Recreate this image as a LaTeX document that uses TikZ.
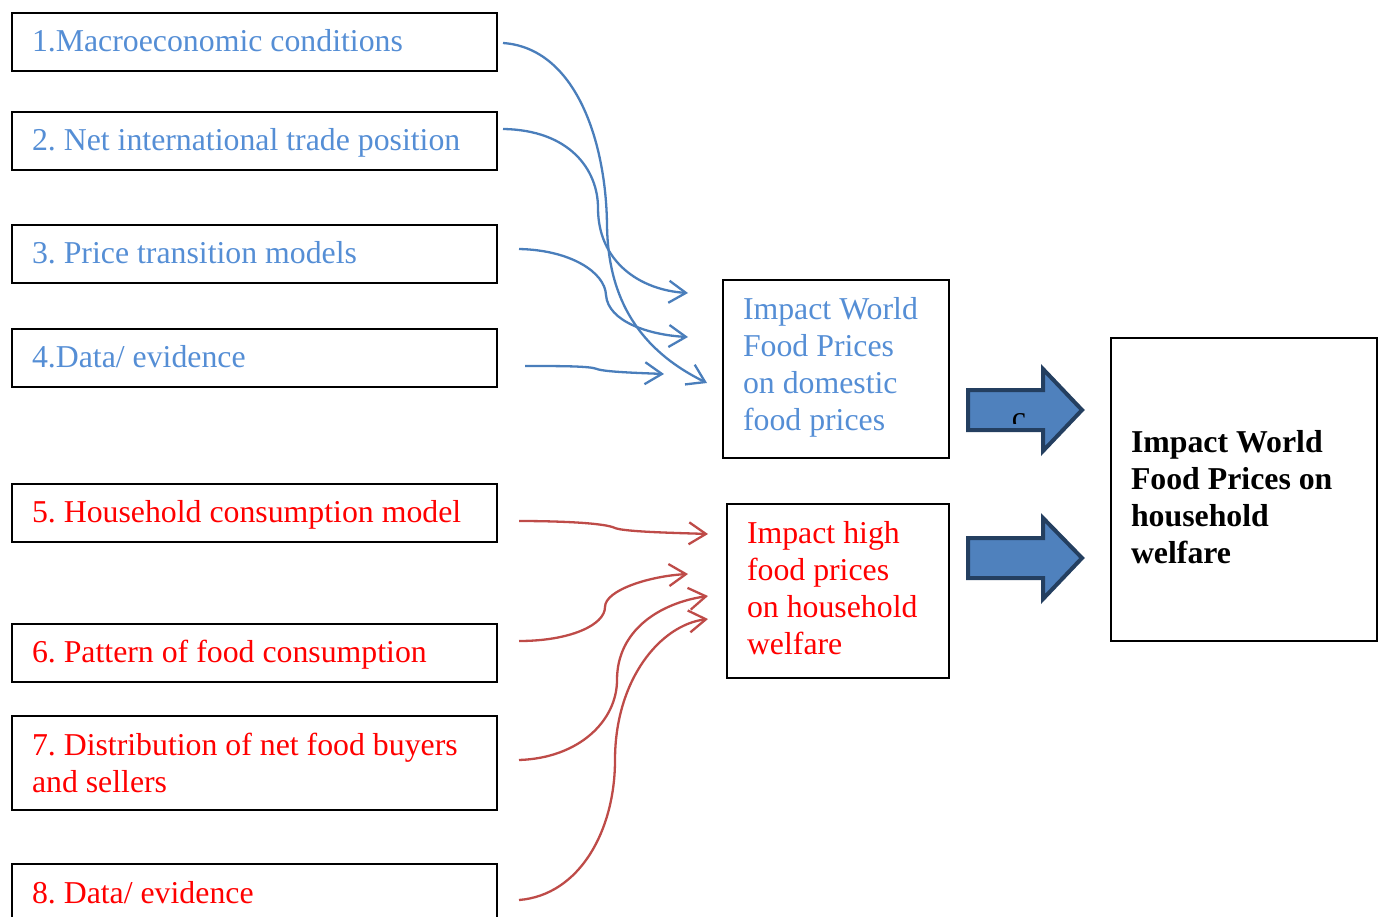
\documentclass[tikz,border=0pt]{standalone}
\usepackage{fontspec}
\setmainfont{Liberation Serif}
\usetikzlibrary{arrows.meta}
\definecolor{txtblue}{HTML}{558ED5}
\definecolor{lnblue}{HTML}{4A7EBB}
\definecolor{txtred}{HTML}{FF0000}
\definecolor{lnred}{HTML}{BE4B48}
\definecolor{arrfill}{HTML}{4F81BD}
\definecolor{arrdraw}{HTML}{243F60}
\frenchspacing
\begin{document}
\begin{tikzpicture}[x=1pt,y=-1pt,
  basebox/.style={draw=black, line width=2pt, anchor=north west, inner ysep=0pt, align=flush left,
    font=\fontsize{31.8}{37}\selectfont},
  leftbox/.style={basebox, inner xsep=20pt, text width=445pt, minimum width=485pt, minimum height=58pt},
  oneline/.style={text height=24pt, text depth=5pt},
  midbox/.style={basebox, inner xsep=20pt},
  bluetxt/.style={text=txtblue},
  redtxt/.style={text=txtred},
  conn/.style={line width=2.3pt, -{Straight Barb[length=17pt,width=22pt,line width=2.3pt]}},
  bconn/.style={conn, draw=lnblue},
  rconn/.style={conn, draw=lnred},
  blockarrow/.style={fill=arrfill, draw=arrdraw, line width=4pt, line join=miter}
]
\useasboundingbox (0,0) rectangle (1380,916);
\clip (0,0) rectangle (1380,916);

% left boxes
\node[leftbox, oneline, bluetxt] (b1) at (11,12) {1.Macroeconomic conditions};
\node[leftbox, oneline, bluetxt] (b2) at (11,111) {2. Net international trade position};
\node[leftbox, oneline, bluetxt] (b3) at (11,224) {3. Price transition models};
\node[leftbox, oneline, bluetxt] (b4) at (11,328) {4.Data/ evidence};
\node[leftbox, oneline, redtxt] (b5) at (11,483) {5. Household consumption model};
\node[leftbox, oneline, redtxt] (b6) at (11,623) {6. Pattern of food consumption};
\node[leftbox, redtxt, minimum height=94pt] (b7) at (11,715) {7. Distribution of net food buyers\\and sellers};
\node[leftbox, oneline, redtxt, minimum height=60pt] (b8) at (11,863) {8. Data/ evidence};

% middle boxes
\node[midbox, bluetxt, text width=186pt, minimum width=226pt, minimum height=178pt] (m1) at (722,279)
  {Impact World\\Food Prices\\on domestic\\food prices\rule[-10pt]{0pt}{0pt}};
\node[midbox, redtxt, text width=182pt, minimum width=222pt, minimum height=174pt] (m2) at (726,503)
  {Impact high\\food prices\\on household\\welfare\rule[-7pt]{0pt}{0pt}};

% right box
\node[midbox, text width=226pt, minimum width=266pt, minimum height=303pt, font=\fontsize{31.8}{37}\selectfont\bfseries] (r) at (1110,337)
  {\rule{0pt}{38pt}Impact World\\Food Prices on\\household\\welfare};

% connector end points
\coordinate (s1) at (503,43);
\coordinate (s2) at (503,129);
\coordinate (s3) at (519,249);
\coordinate (s4) at (525,366);
\coordinate (s5) at (519,521);
\coordinate (s6) at (519,641);
\coordinate (s7) at (519,760);
\coordinate (s8) at (519,900);
\coordinate (e1) at (707,383);
\coordinate (e2) at (688,293);
\coordinate (e3) at (688,337);
\coordinate (e4) at (664,374);
\coordinate (e5) at (708,534);
\coordinate (e6) at (688,574);
\coordinate (e7) at (708,596);
\coordinate (e8) at (708,619);

% blue connectors
\draw[bconn] (s1) .. controls (575,48) and (606,140) .. (607,225) .. controls (608,300) and (640,350) .. (e1);
\draw[bconn] (s2) .. controls (570,130) and (598,170) .. (598,208) .. controls (598,262) and (640,290) .. (e2);
\draw[bconn] (s3) .. controls (570,250) and (605,272) .. (606,295) .. controls (608,322) and (650,335) .. (e3);
\draw[bconn] (s4) .. controls (560,366) and (590,366) .. (597,369) .. controls (605,372) and (640,373) .. (e4);

% red connectors
\draw[rconn] (s5) .. controls (560,521) and (605,523) .. (615,528) .. controls (625,532) and (680,533) .. (e5);
\draw[rconn] (s6) .. controls (570,641) and (605,625) .. (605,607) .. controls (605,590) and (650,576) .. (e6);
\draw[rconn] (s7) .. controls (580,758) and (617,720) .. (617,680) .. controls (617,630) and (660,603) .. (e7);
\draw[rconn] (s8) .. controls (580,895) and (615,830) .. (615,760) .. controls (615,680) and (660,625) .. (e8);

% block arrows
\draw[blockarrow] (968,390) -- (1043,390) -- (1043,369) -- (1082,410) -- (1043,451) -- (1043,430) -- (968,430) -- cycle;
\draw[blockarrow] (968,538) -- (1043,538) -- (1043,518) -- (1082,558) -- (1043,599) -- (1043,578) -- (968,578) -- cycle;
\begin{scope}
  \clip (1000,400) rectangle (1040,423);
  \node[anchor=base, inner sep=0pt, font=\fontsize{31.8}{37}\selectfont] (c) at (1019,428) {c};
\end{scope}
\end{tikzpicture}
\end{document}
